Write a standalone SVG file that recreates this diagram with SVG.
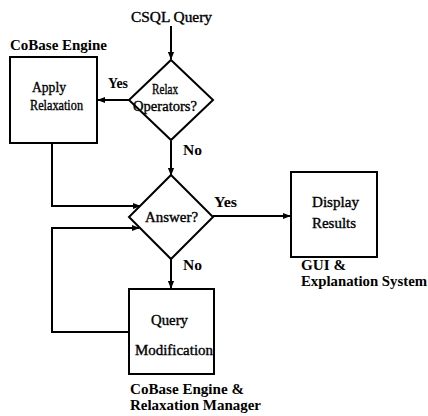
<svg xmlns="http://www.w3.org/2000/svg" width="428" height="416" viewBox="0 0 428 416">
<style>
.s{fill:none;stroke:#000;stroke-width:2}
.t{font-family:"Liberation Serif","Times New Roman",serif;font-size:14px;fill:#000;stroke:#000;stroke-width:0.35}
.b{font-family:"Liberation Serif","Times New Roman",serif;font-size:14px;font-weight:bold;fill:#000}
</style>
<defs>
<marker id="a" viewBox="0 0 10 10" refX="9" refY="5" markerWidth="4" markerHeight="4" orient="auto" markerUnits="strokeWidth">
<path d="M0,1 L10,5 L0,9 z" fill="#000"/>
</marker>
</defs>
<rect width="428" height="416" fill="#fff"/>
<g id="connectors" class="s">
<line x1="171" y1="26" x2="171" y2="59" marker-end="url(#a)"/>
<line x1="129" y1="100" x2="98" y2="100" marker-end="url(#a)"/>
<line x1="171" y1="141" x2="171" y2="175" marker-end="url(#a)"/>
<polyline points="52,143 52,206 140,206" marker-end="url(#a)"/>
<polyline points="129,332 52,332 52,228 139,228" marker-end="url(#a)"/>
<line x1="213" y1="216" x2="290" y2="216" marker-end="url(#a)"/>
<line x1="171" y1="259" x2="171" y2="288" marker-end="url(#a)"/>
</g>
<g id="query"><text class="t" x="131" y="22" textLength="81" lengthAdjust="spacingAndGlyphs">CSQL Query</text></g>
<g id="relax">
<polygon class="s" points="171,60 213,100 171,140 129,100"/>
<text class="t" x="152" y="94" textLength="26" lengthAdjust="spacingAndGlyphs">Relax</text>
<text class="t" x="133" y="111" textLength="64" lengthAdjust="spacingAndGlyphs">Operators?</text>
</g>
<g id="apply">
<text class="b" x="10" y="50" textLength="97" lengthAdjust="spacingAndGlyphs">CoBase Engine</text>
<rect class="s" x="10" y="57" width="87" height="86"/>
<text class="t" x="32" y="92" textLength="34" lengthAdjust="spacingAndGlyphs">Apply</text>
<text class="t" x="30" y="110" textLength="53" lengthAdjust="spacingAndGlyphs">Relaxation</text>
</g>
<g id="answer">
<polygon class="s" points="171,175 213,217 171,259 129,217"/>
<text class="t" x="145" y="222" textLength="53" lengthAdjust="spacingAndGlyphs">Answer?</text>
</g>
<g id="display">
<rect class="s" x="291" y="172" width="86" height="85"/>
<text class="t" x="312" y="207" textLength="47" lengthAdjust="spacingAndGlyphs">Display</text>
<text class="t" x="312" y="228" textLength="44" lengthAdjust="spacingAndGlyphs">Results</text>
<text class="b" x="301" y="270" textLength="45" lengthAdjust="spacingAndGlyphs">GUI &amp;</text>
<text class="b" x="301" y="286" textLength="126" lengthAdjust="spacingAndGlyphs">Explanation System</text>
</g>
<g id="modify">
<rect class="s" x="129" y="289" width="85" height="85"/>
<text class="t" x="151" y="325" textLength="37" lengthAdjust="spacingAndGlyphs">Query</text>
<text class="t" x="135" y="355" textLength="78" lengthAdjust="spacingAndGlyphs">Modification</text>
<text class="b" x="130" y="394" textLength="114" lengthAdjust="spacingAndGlyphs">CoBase Engine &amp;</text>
<text class="b" x="130" y="410" textLength="131" lengthAdjust="spacingAndGlyphs">Relaxation Manager</text>
</g>
<g id="labels">
<text class="b" x="108" y="88" textLength="20" lengthAdjust="spacingAndGlyphs">Yes</text>
<text class="b" x="183" y="155" textLength="19" lengthAdjust="spacingAndGlyphs">No</text>
<text class="b" x="183" y="270" textLength="19" lengthAdjust="spacingAndGlyphs">No</text>
<text class="b" x="214" y="207" textLength="23" lengthAdjust="spacingAndGlyphs">Yes</text>
</g>
</svg>
